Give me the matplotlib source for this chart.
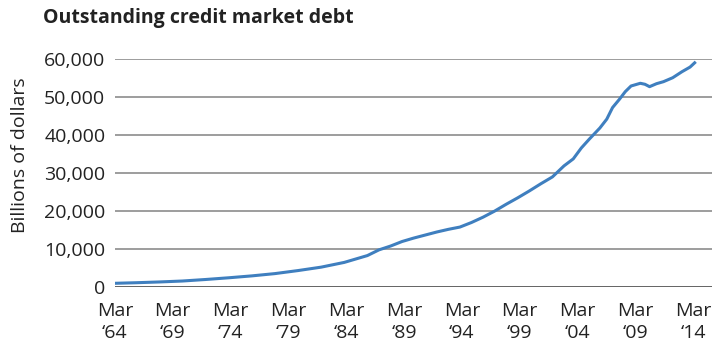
import matplotlib
matplotlib.use("Agg")
import matplotlib.pyplot as plt
from matplotlib.ticker import FuncFormatter

# decimal year (March 1964 = 1964.17) and billions of dollars
anos = [1964.17, 1966.0, 1968.0, 1970.0, 1972.0, 1974.0, 1976.0, 1978.0, 1980.0,
        1982.0, 1984.0, 1985.0, 1986.0, 1987.0, 1988.0, 1989.0, 1990.0, 1991.0,
        1992.0, 1993.0, 1994.0, 1995.0, 1996.0, 1997.0, 1998.0, 1999.0, 2000.0,
        2001.0, 2002.0, 2003.0, 2003.8, 2004.5, 2005.2, 2006.1, 2006.7, 2007.2,
        2007.8, 2008.3, 2008.8, 2009.6, 2010.0, 2010.4, 2011.0, 2011.6, 2012.4,
        2013.2, 2013.9, 2014.3]
divida = [1000, 1150, 1350, 1600, 2000, 2450, 2950, 3550, 4350,
          5250, 6500, 7400, 8300, 9800, 10800, 12000, 12900, 13700,
          14500, 15200, 15800, 17000, 18400, 20000, 21800, 23500, 25300,
          27200, 29000, 31900, 33740, 36620, 38980, 41860, 44210, 47250,
          49450, 51440, 52930, 53640, 53380, 52750, 53530, 54060, 55100,
          56680, 57900, 59030]

anos_ticks = [1964, 1969, 1974, 1979, 1984, 1989, 1994, 1999, 2004, 2009, 2014]
rotulos_x = [f"Mar\n\u2018{a % 100:02d}" for a in anos_ticks]
ticks_y = [0, 10000, 20000, 30000, 40000, 50000, 60000]

plt.rcParams["font.family"] = ["Open Sans", "DejaVu Sans"]

fig = plt.figure(figsize=(7.12, 3.54), dpi=100)
ax = fig.add_axes([0.1615, 0.189, 0.8385, 0.644])

for v in ticks_y[1:]:
    ax.axhline(v, color="#8c8c8c", linewidth=1.2, zorder=1)
ax.axhline(0, color="#555555", linewidth=2.0, zorder=1)

ax.plot(anos, divida, color="#3f7fbf", linewidth=2.2, zorder=3)

ax.set_xlim(1964.17, 2015.8)
ax.set_ylim(0, 60000)
ax.set_xticks([a + 0.17 for a in anos_ticks])
ax.set_xticklabels(rotulos_x, fontsize=14, color="#222222", linespacing=1.25)
ax.set_yticks(ticks_y)
ax.yaxis.set_major_formatter(FuncFormatter(lambda v, p: f"{int(v):,}"))
ax.tick_params(length=0, labelsize=14, labelcolor="#222222")
ax.tick_params(axis="x", pad=11)
ax.tick_params(axis="y", pad=7)
for s in ax.spines.values():
    s.set_visible(False)

fig.text(0.028, 0.562, "Billions of dollars", fontsize=14, color="#222222",
         rotation=90, ha="center", va="center")
fig.text(0.06, 0.935, "Outstanding credit market debt", fontsize=14,
         fontweight="bold", color="#222222", ha="left", va="baseline")

fig.savefig("out.png", dpi=100)
